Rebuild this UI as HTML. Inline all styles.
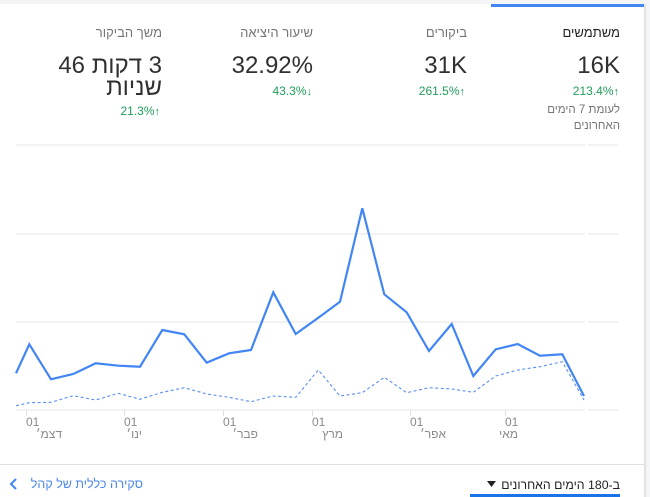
<!DOCTYPE html>
<html><head><meta charset="utf-8">
<style>
html,body{margin:0;padding:0;}
body{width:650px;height:497px;position:relative;overflow:hidden;background:#f4f5f7;font-family:"Liberation Sans","Noto Sans CJK JP",sans-serif;}
.card{position:absolute;left:0;top:4px;width:644px;height:493px;background:#fff;}
.shadow{position:absolute;left:644px;top:4px;width:2px;height:493px;background:#e2e2e2;}
.t{position:absolute;direction:rtl;text-align:right;white-space:nowrap;}
.title{font-size:13px;line-height:16px;color:#757575;top:25px;}
.big{font-size:24px;line-height:28px;color:#303030;top:52px;}
.chg{font-size:12px;line-height:14px;color:#1e9d5b;top:84px;}
.chg b{font-size:11px;}
.sub{font-size:11.5px;line-height:16px;color:#757575;}
.ax{position:absolute;font-size:12px;line-height:14px;color:#8a8a8a;white-space:nowrap;}
.mon{position:absolute;font-size:12px;line-height:14px;color:#8a8a8a;white-space:nowrap;direction:rtl;text-align:right;}
</style></head><body>
<div class="card"></div>
<div class="shadow"></div>
<div style="position:absolute;left:491px;top:4px;width:153px;height:3px;background:#4285f4;"></div>

<!-- column 1 -->
<div class="t title" style="right:30px;color:#212121;">משתמשים</div>
<div class="t big" style="right:30px;">16K</div>
<div class="t chg" style="right:31px;"><span dir="ltr">213.4%<b>↑</b></span></div>
<div class="t sub" style="right:30px;top:102px;">לעומת 7 הימים</div>
<div class="t sub" style="right:30px;top:118px;">האחרונים</div>

<!-- column 2 -->
<div class="t title" style="right:183px;">ביקורים</div>
<div class="t big" style="right:183px;">31K</div>
<div class="t chg" style="right:185px;"><span dir="ltr">261.5%<b>↑</b></span></div>

<!-- column 3 -->
<div class="t title" style="right:337px;">שיעור היציאה</div>
<div class="t big" style="right:337px;">32.92%</div>
<div class="t chg" style="right:338px;"><span dir="ltr">43.3%<b>↓</b></span></div>

<!-- column 4 -->
<div class="t title" style="right:488px;">משך הביקור</div>
<div class="t big" style="right:488px;line-height:22px;top:55px;">3 דקות 46<br>שניות</div>
<div class="t chg" style="right:490px;top:104px;"><span dir="ltr">21.3%<b>↑</b></span></div>

<!-- chart -->
<svg style="position:absolute;left:0;top:0;" width="650" height="497" viewBox="0 0 650 497">
  <g stroke="#ebebeb" stroke-width="1.2">
    <line x1="16" y1="145" x2="585" y2="145"/><line x1="588" y1="145" x2="618" y2="145"/>
    <line x1="16" y1="234" x2="585" y2="234"/><line x1="588" y1="234" x2="618" y2="234"/>
    <line x1="16" y1="322" x2="585" y2="322"/><line x1="588" y1="322" x2="618" y2="322"/>
    <line x1="16" y1="410" x2="585" y2="410"/><line x1="588" y1="410" x2="618" y2="410"/>
  </g>
  <g stroke="#e0e0e0" stroke-width="1">
    <line x1="26.5" y1="410" x2="26.5" y2="416"/>
    <line x1="124.5" y1="410" x2="124.5" y2="416"/>
    <line x1="223.5" y1="410" x2="223.5" y2="416"/>
    <line x1="312.5" y1="410" x2="312.5" y2="416"/>
    <line x1="410.5" y1="410" x2="410.5" y2="416"/>
    <line x1="505.5" y1="410" x2="505.5" y2="416"/>
  </g>
  <polyline fill="none" stroke="#5a8ff0" stroke-width="1.1" stroke-dasharray="3,2.5"
    points="16,405.7 29.3,402.7 51,402.3 73.3,395.7 95.7,400 118.3,393.3 140,399.3 162.3,392.3 184.3,387.7 206.7,394 229,397.3 251,401.7 273.3,396 295.7,397.3 318.3,370 340,396 362.3,392.7 384.3,377.3 406.7,392.7 429,387.7 451.7,389 473.3,392.3 495.7,376 517.7,370 540,366.7 562.3,361.7 584,400"/>
  <polyline fill="none" stroke="#4285f4" stroke-width="2.2" stroke-linejoin="miter"
    points="16,373.3 29.3,344.3 51,379.3 73.3,374 95.7,363.3 118.3,365.7 140,366.7 162.3,330 184.3,334.3 206.7,362.7 229,353.3 251,350 273.3,292.3 295.7,334 318,318 340,301.7 362.3,208.3 384.3,294.3 406.7,312.3 429,351 451.7,324 473.3,376 495.7,349.3 517.7,344 540,355.7 562.3,354.3 584,396"/>
  <line x1="0" y1="464.5" x2="644" y2="464.5" stroke="#e0e0e0" stroke-width="1"/>
  <polyline fill="none" stroke="#4285f4" stroke-width="2" points="16,479 11,484 16,489"/>
  <rect x="470" y="494" width="150" height="3" fill="#1a73e8"/>
  <polygon points="487,481 496,481 491.5,487" fill="#212121"/>
</svg>

<div class="ax" style="left:26px;top:415px;">01</div>
<div class="ax" style="left:124px;top:415px;">01</div>
<div class="ax" style="left:223px;top:415px;">01</div>
<div class="ax" style="left:312px;top:415px;">01</div>
<div class="ax" style="left:410px;top:415px;">01</div>
<div class="ax" style="left:505px;top:415px;">01</div>

<div class="mon" style="right:588px;top:427px;">דצמ׳</div>
<div class="mon" style="right:508px;top:427px;">ינו׳</div>
<div class="mon" style="right:392px;top:427px;">פבר׳</div>
<div class="mon" style="right:307px;top:427px;">מרץ</div>
<div class="mon" style="right:204px;top:427px;">אפר׳</div>
<div class="mon" style="right:132px;top:427px;">מאי</div>

<div class="t" style="right:507px;top:476px;font-size:12.5px;line-height:16px;color:#4a86e8;">סקירה כללית של קהל</div>
<div class="t" style="right:30px;top:477px;font-size:12.3px;line-height:16px;color:#212121;">ב-180 הימים האחרונים</div>
</body></html>
